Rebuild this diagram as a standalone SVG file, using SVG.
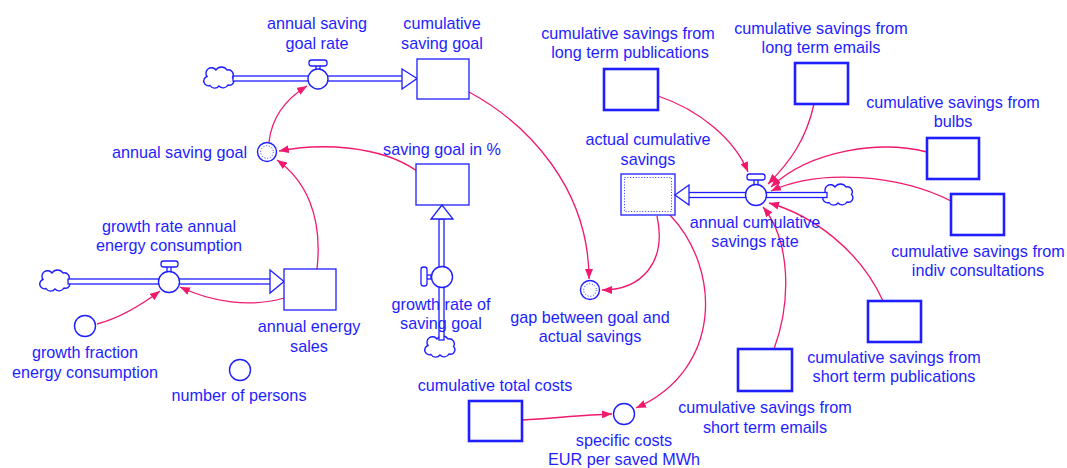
<svg xmlns="http://www.w3.org/2000/svg" width="1067" height="468" viewBox="0 0 1067 468">
<defs>
<style>
text{font-family:"Liberation Sans",Arial,sans-serif;font-size:16.2px;fill:#1e1eff;text-anchor:middle}
.stock{fill:#fff;stroke:#1e1eff;stroke-width:1.3}
.stockb{fill:#fff;stroke:#1e1eff;stroke-width:2.6}
.inner{fill:none;stroke:#1e1eff;stroke-width:0.9;stroke-dasharray:1 1.8}
.aux{fill:#fff;stroke:#1e1eff;stroke-width:1.4}
.pipe{fill:#fff;stroke:#1e1eff;stroke-width:1.3}
.cloud{fill:#fff;stroke:#1e1eff;stroke-width:1.4}
.link{fill:none;stroke:#f0196e;stroke-width:1.3;marker-end:url(#ah)}
</style>
<marker id="ah" viewBox="0 0 10 8" refX="10" refY="4" markerWidth="10" markerHeight="8" markerUnits="userSpaceOnUse" orient="auto">
<path d="M0,0 L10,4 L0,8 Z" fill="#f0196e"/>
</marker>
<path id="cl" class="cloud" d="M-10,7.5 a4.5,4.5 0 0 1 -3,-9 a5.5,5.5 0 0 1 9,-6.5 a6.5,6.5 0 0 1 11,0 a5,5 0 0 1 5.5,7.5 a4.5,4.5 0 0 1 -4.5,7.5 a5.5,5.5 0 0 1 -9,1 a5.5,5.5 0 0 1 -9,-0.5 z"/>
</defs>
<rect width="1067" height="468" fill="#fff"/>

<g id="connectors">
<path class="link" d="M269,142 C272,115 289,97 307,86"/>
<path class="link" d="M417,171 C380,145 320,143 279,151"/>
<path class="link" d="M317,269 C323,215 305,180 277,160"/>
<path class="link" d="M284,298 C250,308 212,302 180,287"/>
<path class="link" d="M97,324 C120,318 140,306 160,291"/>
<path class="link" d="M469,92 C530,125 589,190 589,279"/>
<path class="link" d="M657,216 C667,262 642,290 602,290"/>
<path class="link" d="M670,215 C722,270 722,370 636,408"/>
<path class="link" d="M522,420 C555,418 585,415 612,414"/>
<path class="link" d="M658,96 C700,110 735,140 748,172"/>
<path class="link" d="M814,104 C806,140 790,162 768,184"/>
<path class="link" d="M927,152 C880,140 810,150 771,187"/>
<path class="link" d="M951,201 C900,175 820,168 771,191"/>
<path class="link" d="M883,301 C860,250 812,215 769,203"/>
<path class="link" d="M774,349 C792,300 790,240 763,207"/>
</g>

<g id="flow-annual-saving-goal-rate">
<use href="#cl" x="220" y="78"/>
<rect class="pipe" x="233" y="76" width="170" height="5"/>
<polygon class="pipe" points="402,69 417,78.5 402,89"/>
<rect class="pipe" x="316" y="65" width="4" height="5"/>
<rect class="pipe" x="309" y="60" width="18" height="6" rx="2.5"/>
<circle class="aux" cx="318" cy="79" r="10"/>
<text x="317" y="29">annual saving</text>
<text x="317" y="49">goal rate</text>
</g>

<g id="cumulative-saving-goal">
<rect class="stock" x="417" y="59" width="52" height="40"/>
<text x="442" y="29">cumulative</text>
<text x="442" y="49">saving goal</text>
</g>

<g id="annual-saving-goal">
<circle class="aux" cx="267" cy="152" r="9.5"/>
<circle class="inner" cx="267" cy="152" r="6.3"/>
<text x="247" y="158" style="text-anchor:end">annual saving goal</text>
</g>

<g id="saving-goal-in-pct">
<rect class="stock" x="416" y="164" width="53" height="41"/>
<text x="442" y="155">saving goal in %</text>
</g>

<g id="flow-growth-rate-of-saving-goal">
<use href="#cl" x="441" y="347"/>
<rect class="pipe" x="439" y="219" width="5" height="121"/>
<polygon class="pipe" points="442,205 431,219 453,219"/>
<rect class="pipe" x="426" y="275" width="5" height="4"/>
<rect class="pipe" x="421" y="267" width="6" height="19" rx="2.5"/>
<circle class="aux" cx="442" cy="277" r="10.5"/>
<text x="441" y="310">growth rate of</text>
<text x="441" y="329">saving goal</text>
</g>

<g id="flow-growth-rate-annual-energy-consumption">
<use href="#cl" x="56" y="281"/>
<rect class="pipe" x="68" y="279" width="203" height="5"/>
<polygon class="pipe" points="270,270 284,281.5 270,293"/>
<rect class="pipe" x="167" y="266" width="4" height="6"/>
<rect class="pipe" x="161" y="261" width="17" height="6" rx="2.5"/>
<circle class="aux" cx="169" cy="282" r="10.5"/>
<text x="169" y="232">growth rate annual</text>
<text x="169" y="251">energy consumption</text>
</g>

<g id="annual-energy-sales">
<rect class="stock" x="284" y="269" width="52" height="41"/>
<text x="309" y="332">annual energy</text>
<text x="309" y="352">sales</text>
</g>

<g id="growth-fraction-energy-consumption">
<circle class="aux" cx="85" cy="326" r="10.5"/>
<text x="85" y="358">growth fraction</text>
<text x="85" y="378">energy consumption</text>
</g>

<g id="number-of-persons">
<circle class="aux" cx="240" cy="370" r="10.5"/>
<text x="239" y="401">number of persons</text>
</g>

<g id="gap-between-goal-and-actual-savings">
<circle class="aux" cx="590" cy="290" r="9.5"/>
<circle class="inner" cx="590" cy="290" r="6.3"/>
<text x="590" y="323">gap between goal and</text>
<text x="590" y="342">actual savings</text>
</g>

<g id="actual-cumulative-savings">
<rect class="stock" x="621" y="174" width="54" height="41"/>
<rect class="inner" x="624.5" y="177.5" width="47" height="34"/>
<text x="648" y="145">actual cumulative</text>
<text x="648" y="165">savings</text>
</g>

<g id="flow-annual-cumulative-savings-rate">
<use href="#cl" x="839" y="195"/>
<rect class="pipe" x="688" y="192.5" width="139" height="5"/>
<polygon class="pipe" points="689,185 675,195 689,205"/>
<rect class="pipe" x="754" y="179" width="4" height="6"/>
<rect class="pipe" x="747" y="174" width="18" height="6" rx="2.5"/>
<circle class="aux" cx="756" cy="195" r="10.5"/>
<text x="755" y="228">annual cumulative</text>
<text x="755" y="247">savings rate</text>
</g>

<g id="cs-long-term-publications">
<rect class="stockb" x="604" y="69" width="54" height="41"/>
<text x="628" y="39">cumulative savings from</text>
<text x="630" y="58">long term publications</text>
</g>

<g id="cs-long-term-emails">
<rect class="stockb" x="795" y="63" width="53" height="41"/>
<text x="821" y="34">cumulative savings from</text>
<text x="821" y="53">long term emails</text>
</g>

<g id="cs-bulbs">
<rect class="stockb" x="927" y="138" width="52" height="41"/>
<text x="953" y="108">cumulative savings from</text>
<text x="953" y="127">bulbs</text>
</g>

<g id="cs-indiv-consultations">
<rect class="stockb" x="951" y="194" width="53" height="41"/>
<text x="978" y="257">cumulative savings from</text>
<text x="978" y="276">indiv consultations</text>
</g>

<g id="cs-short-term-publications">
<rect class="stockb" x="868" y="301" width="53" height="41"/>
<text x="894" y="363">cumulative savings from</text>
<text x="894" y="382">short term publications</text>
</g>

<g id="cs-short-term-emails">
<rect class="stockb" x="738" y="349" width="54" height="42"/>
<text x="765" y="413">cumulative savings from</text>
<text x="765" y="433">short term emails</text>
</g>

<g id="cumulative-total-costs">
<rect class="stockb" x="469" y="401" width="53" height="40"/>
<text x="495" y="391">cumulative total costs</text>
</g>

<g id="specific-costs">
<circle class="aux" cx="624" cy="414" r="10.5"/>
<text x="624" y="446">specific costs</text>
<text x="624" y="465">EUR per saved MWh</text>
</g>
</svg>
